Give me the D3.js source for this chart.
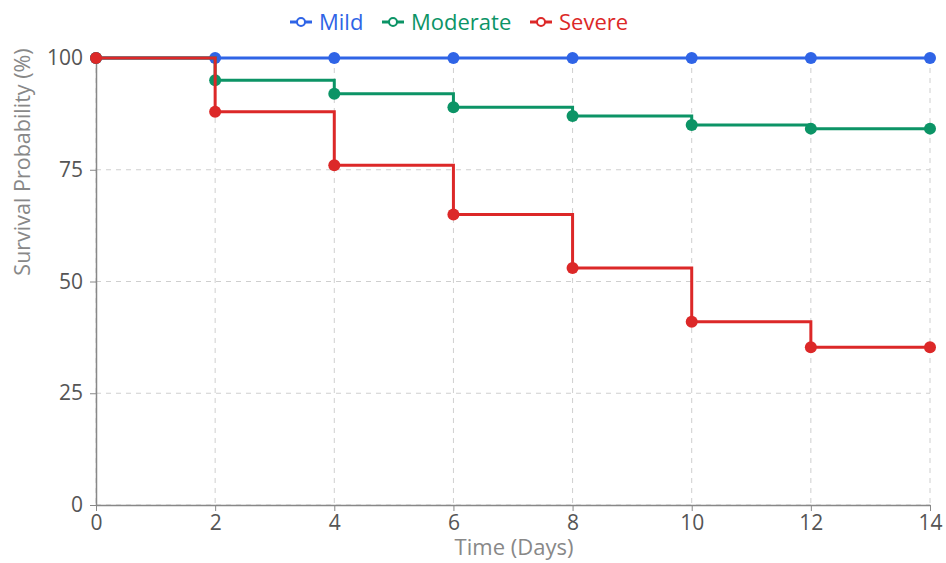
<!DOCTYPE html>
<html>
<head>
<meta charset="utf-8">
<script src="https://cdn.jsdelivr.net/npm/d3@7"></script>
<style>
  body { margin: 0; background: #fff; }
  svg { font-family: "Open Sans", "Noto Sans", sans-serif; }
</style>
</head>
<body>
<div id="chart"></div>
<script>
var days = [0, 2, 4, 6, 8, 10, 12, 14];
var mild = [100, 100, 100, 100, 100, 100, 100, 100];
var moderate = [100, 95, 92, 89, 87, 85, 84.2, 84.2];
var severe = [100, 88, 76, 65, 53, 41, 35.3, 35.3];
var yTicks = [0, 25, 50, 75, 100];

var series = [
    {name: "Mild", values: mild, color: "#2f64e6"},
    {name: "Moderate", values: moderate, color: "#0c9466"},
    {name: "Severe", values: severe, color: "#dc2828"}
];

var width = 946, height = 563;
var margin = {top: 58, bottom: 58, left: 96, right: 16};
var w = width - margin.left - margin.right;
var h = height - margin.top - margin.bottom;

var svg = d3.select("#chart").append("svg")
    .attr("width", width)
    .attr("height", height);

var g = svg.append("g")
    .attr("transform", "translate(" + margin.left + "," + margin.top + ")");

var x = d3.scaleLinear().domain([0, 14]).range([0, w]);
var y = d3.scaleLinear().domain([0, 100]).range([h, 0]);

// grid
g.append("g").selectAll("line.vg")
    .data(days)
    .enter().append("line")
    .attr("x1", d => x(d)).attr("x2", d => x(d))
    .attr("y1", 0).attr("y2", h)
    .attr("stroke", "#cfcfcf").attr("stroke-dasharray", "5,5");
g.append("g").selectAll("line.hg")
    .data(yTicks)
    .enter().append("line")
    .attr("x1", 0).attr("x2", w)
    .attr("y1", d => y(d)).attr("y2", d => y(d))
    .attr("stroke", "#cfcfcf").attr("stroke-dasharray", "5,5");

// axes
var xAxis = g.append("g")
    .attr("transform", "translate(0," + h + ")")
    .call(d3.axisBottom(x).tickValues(days).tickSize(6).tickPadding(4).tickSizeOuter(0));
var yAxis = g.append("g")
    .call(d3.axisLeft(y).tickValues(yTicks).tickSize(6).tickPadding(7).tickSizeOuter(0));

[xAxis, yAxis].forEach(function(a) {
    a.select(".domain").attr("stroke", "#888").attr("stroke-width", 1.5);
    a.selectAll(".tick line").attr("stroke", "#888");
    a.selectAll(".tick text").attr("fill", "#555").attr("font-size", 21)
        .attr("font-family", "'Open Sans', sans-serif");
});

// titles
svg.append("text")
    .attr("x", 514)
    .attr("y", 555)
    .attr("text-anchor", "middle")
    .attr("fill", "#888")
    .attr("font-size", 22)
    .text("Time (Days)");
svg.append("text")
    .attr("transform", "translate(30,162) rotate(-90)")
    .attr("text-anchor", "middle")
    .attr("fill", "#888")
    .attr("font-size", 21.5)
    .text("Survival Probability (%)");

// lines
var line = d3.line()
    .x(d => x(d[0]))
    .y(d => y(d[1]))
    .curve(d3.curveStepAfter);

series.forEach(function(s) {
    var pts = days.map((d, i) => [d, s.values[i]]);
    g.append("path")
        .datum(pts)
        .attr("fill", "none")
        .attr("stroke", s.color)
        .attr("stroke-width", 3)
        .attr("d", line);
    g.selectAll(null)
        .data(pts)
        .enter().append("circle")
        .attr("cx", d => x(d[0]))
        .attr("cy", d => y(d[1]))
        .attr("r", 6)
        .attr("fill", s.color);
});

// legend
var legendX = [290, 382, 530];
var legend = svg.append("g");
series.forEach(function(s, i) {
    var lg = legend.append("g").attr("transform", "translate(" + legendX[i] + ",22)");
    lg.append("line").attr("x1", 0).attr("x2", 22).attr("y1", 0).attr("y2", 0)
        .attr("stroke", s.color).attr("stroke-width", 3);
    lg.append("circle").attr("cx", 11).attr("cy", 0).attr("r", 4)
        .attr("fill", "#fff").attr("stroke", s.color).attr("stroke-width", 2);
    lg.append("text").attr("x", 29).attr("y", 0).attr("dy", "0.35em")
        .attr("fill", s.color).attr("font-size", 22)
        .text(s.name);
});
</script>
</body>
</html>
